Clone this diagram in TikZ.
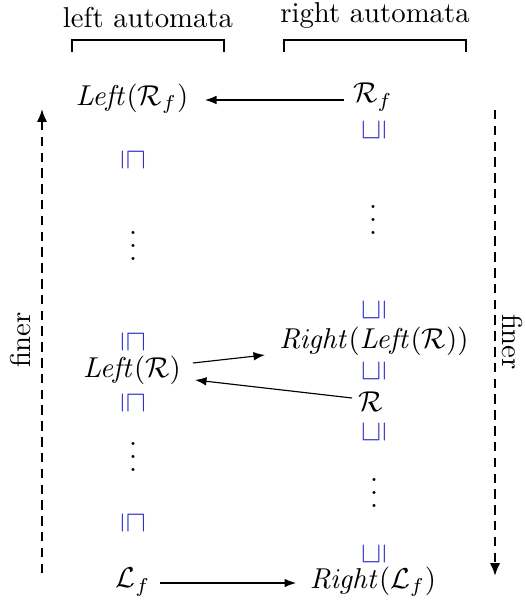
\documentclass[tikz,border=0pt]{standalone}
\usepackage{amssymb}
\usetikzlibrary{arrows.meta}
\definecolor{ordblue}{RGB}{50,50,200}
\newcommand\myvdots{\vbox{\baselineskip4.4pt\lineskiplimit0pt\hbox{.}\hbox{.}\hbox{.}}}
\tikzset{
  lbl/.style={inner sep=0pt},
  dotsnode/.style={inner sep=0pt},
  ordL/.style={inner sep=0pt,text=ordblue,rotate=-90},
  ordR/.style={inner sep=0pt,text=ordblue,rotate=90},
  bracket/.style={line width=0.7pt},
  maparrow/.style={-{Latex[length=4pt,width=3pt]},line width=0.4pt},
  finerarrow/.style={-{Latex[length=4.5pt,width=3.6pt]},line width=0.75pt,dash pattern=on 3.3pt off 2.2pt}
}
\begin{document}
\begin{tikzpicture}[x=0.348pt,y=-0.348pt]
\useasboundingbox (0,0) rectangle (525,603);
% headers
\node[lbl] (hl) at (148,18) {left automata};
\node[lbl] (hr) at (375,16) {right automata};
\draw[bracket] (72,52) |- (224,40) -- (224,52);
\draw[bracket] (284,52) |- (466,40) -- (466,52);
% left column
\node[lbl] (lrf) at (132,99) {$\mathit{Left}(\mathcal{R}_f)$};
\node[ordL] (l1) at (133,160) {$\sqsubseteq$};
\node[dotsnode] (ld1) at (133,246) {\myvdots};
\node[ordL] (l2) at (133,342) {$\sqsubseteq$};
\node[lbl] (lr) at (132,370) {$\mathit{Left}(\mathcal{R})$};
\node[ordL] (l3) at (133,403) {$\sqsubseteq$};
\node[dotsnode] (ld2) at (133,457) {\myvdots};
\node[ordL] (l4) at (133,523) {$\sqsubseteq$};
\node[lbl] (lf) at (133,582) {$\mathcal{L}_f$};
% right column
\node[lbl] (rf) at (373,97) {$\mathcal{R}_f$};
\node[ordR] (r1) at (374,130) {$\sqsubseteq$};
\node[dotsnode] (rd1) at (373,220) {\myvdots};
\node[ordR] (r2) at (374,310) {$\sqsubseteq$};
\node[lbl] (rlr) at (374,341) {$\mathit{Right}(\mathit{Left}(\mathcal{R}))$};
\node[ordR] (r3) at (374,371) {$\sqsubseteq$};
\node[lbl] (rr) at (371,402) {$\mathcal{R}$};
\node[ordR] (r4) at (374,432) {$\sqsubseteq$};
\node[dotsnode] (rd2) at (374,493) {\myvdots};
\node[ordR] (r5) at (374,554) {$\sqsubseteq$};
\node[lbl] (rlf) at (373,582) {$\mathit{Right}(\mathcal{L}_f)$};
% maps
\coordinate (a1s) at (344,100); \coordinate (a1e) at (205,100);
\draw[maparrow] (a1s) -- (a1e);
\coordinate (a2s) at (193,363); \coordinate (a2e) at (265,355);
\draw[maparrow] (a2s) -- (a2e);
\coordinate (a3s) at (352,398); \coordinate (a3e) at (195,380);
\draw[maparrow] (a3s) -- (a3e);
\coordinate (a4s) at (160,583); \coordinate (a4e) at (296,583);
\draw[maparrow] (a4s) -- (a4e);
% finer arrows
\coordinate (fls) at (42,573); \coordinate (fle) at (42,109);
\draw[finerarrow] (fls) -- (fle);
\coordinate (frs) at (495,110); \coordinate (fre) at (495,576);
\draw[finerarrow] (frs) -- (fre);
\node[lbl,rotate=90] (fl) at (21,340) {finer};
\node[lbl,rotate=-90] (fr) at (512,342) {finer};
\end{tikzpicture}
\end{document}
